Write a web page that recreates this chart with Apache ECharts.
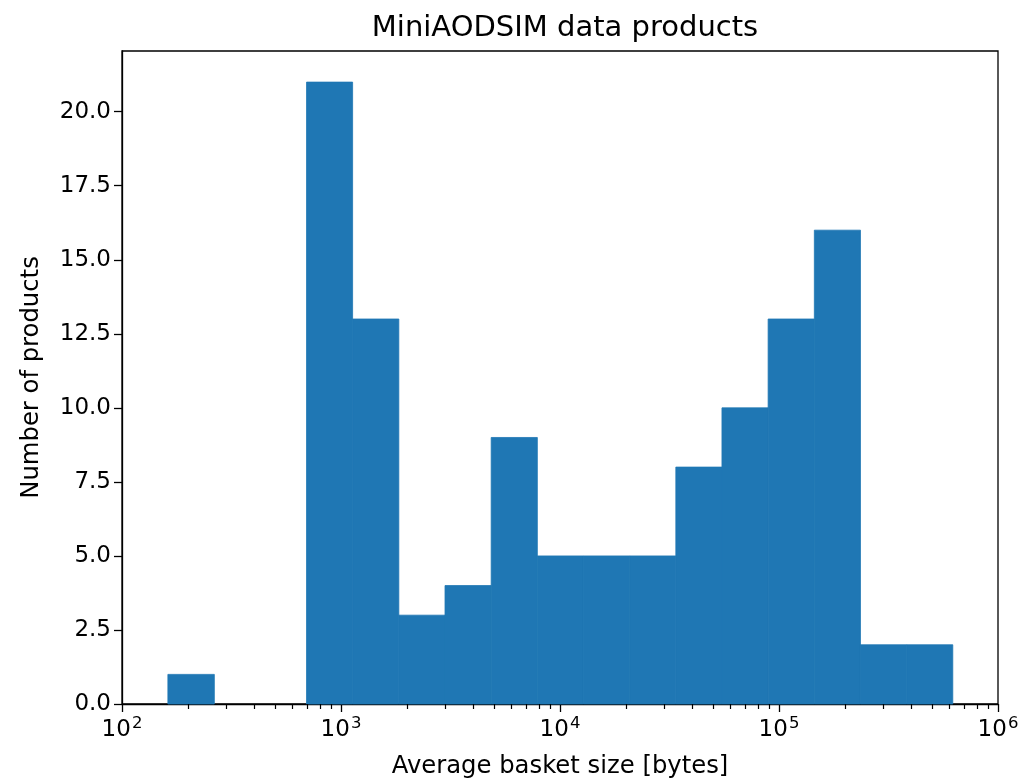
<!DOCTYPE html>
<html>
<head>
<meta charset="utf-8">
<title>MiniAODSIM data products</title>
<script src="https://cdn.jsdelivr.net/npm/echarts@6/dist/echarts.min.js"></script>
<style>
  html, body { margin: 0; padding: 0; background: #fff; }
  #chart { width: 1021px; height: 783px; }
</style>
</head>
<body>
<div id="chart"></div>
<script>
// Histogram bin edges (bytes, log-spaced) and product counts per bin
const binEdges = [162, 264, 428, 696, 1130, 1837, 2985, 4850, 7880, 12800,
                  20800, 33800, 54900, 89200, 145000, 235500, 382600, 621700];
const binCounts = [1, 0, 0, 21, 13, 3, 4, 9, 5, 5, 5, 8, 10, 13, 16, 2, 2];

// Axis ticks
const yTicks = [0, 2.5, 5, 7.5, 10, 12.5, 15, 17.5, 20];
const xMinorTicks = [];
[100, 1000, 10000, 100000].forEach(function (decade) {
  [2, 3, 4, 5, 6, 7, 8, 9].forEach(function (m) { xMinorTicks.push(decade * m); });
});

const FONT = 'DejaVu Sans';
const BLUE = '#1f77b4';

const bars = [];
for (let i = 0; i < binCounts.length; i++) {
  if (binCounts[i] > 0) bars.push([binEdges[i], binEdges[i + 1], binCounts[i]]);
}

const chart = echarts.init(document.getElementById('chart'), null, { renderer: 'canvas' });

chart.setOption({
  animation: false,
  backgroundColor: '#fff',
  title: {
    text: 'MiniAODSIM data products',
    left: 560,
    top: 9,
    textAlign: 'center',
    textStyle: { fontFamily: FONT, fontSize: 29, fontWeight: 'normal', color: '#000' }
  },
  grid: {
    left: 122, right: 23, top: 51, bottom: 79,
    outerBoundsMode: 'none',
    containLabel: false,
    show: true, borderColor: '#000', borderWidth: 1.3, backgroundColor: 'transparent'
  },
  xAxis: {
    type: 'log',
    logBase: 10,
    min: 100,
    max: 1000000,
    name: 'Average basket size [bytes]',
    nameLocation: 'middle',
    nameGap: 51,
    nameTextStyle: { fontFamily: FONT, fontSize: 24.3, color: '#000' },
    axisLine: { show: true, lineStyle: { color: '#000', width: 1.3 } },
    axisTick: { show: true, length: 8, lineStyle: { color: '#000', width: 1.3 } },
    splitLine: { show: false },
    axisLabel: {
      margin: 10,
      color: '#000',
      formatter: function (v) {
        return '{b|10}{s|' + Math.round(Math.log10(v)) + '}';
      },
      rich: {
        b: { fontFamily: FONT, fontSize: 23, color: '#000', verticalAlign: 'bottom', lineHeight: 28 },
        s: { fontFamily: FONT, fontSize: 16.5, color: '#000', verticalAlign: 'bottom', lineHeight: 28, padding: [0, 0, 10, 1] }
      }
    }
  },
  yAxis: {
    type: 'value',
    min: 0,
    max: 22.05,
    name: 'Number of products',
    nameLocation: 'middle',
    nameGap: 78,
    nameTextStyle: { fontFamily: FONT, fontSize: 24.3, color: '#000' },
    axisLine: { show: true, lineStyle: { color: '#000', width: 1.3 } },
    axisTick: { show: true, length: 8, customValues: yTicks, lineStyle: { color: '#000', width: 1.3 } },
    splitLine: { show: false },
    axisLabel: {
      customValues: yTicks,
      margin: 11,
      fontFamily: FONT,
      fontSize: 23,
      color: '#000',
      formatter: function (v) { return v.toFixed(1); }
    }
  },
  series: [
    {
      type: 'custom',
      name: 'products',
      data: bars,
      encode: { x: [0, 1], y: 2 },
      renderItem: function (params, api) {
        const topLeft = api.coord([api.value(0), api.value(2)]);
        const bottomRight = api.coord([api.value(1), 0]);
        return {
          type: 'rect',
          shape: {
            x: topLeft[0],
            y: topLeft[1],
            width: bottomRight[0] - topLeft[0],
            height: bottomRight[1] - topLeft[1]
          },
          style: { fill: BLUE, stroke: BLUE, lineWidth: 0.8 }
        };
      },
      z: 2
    },
    {
      // minor ticks of the logarithmic x axis
      type: 'custom',
      name: 'minorTicks',
      data: xMinorTicks.map(function (v) { return [v, 0]; }),
      encode: { x: 0, y: 1 },
      silent: true,
      renderItem: function (params, api) {
        const p = api.coord([api.value(0), 0]);
        const x = Math.round(p[0]) + 0.5;
        return {
          type: 'line',
          shape: { x1: x, y1: p[1], x2: x, y2: p[1] + 5 },
          style: { stroke: '#000', lineWidth: 1.2 }
        };
      },
      z: 3
    }
  ]
});
</script>
</body>
</html>
